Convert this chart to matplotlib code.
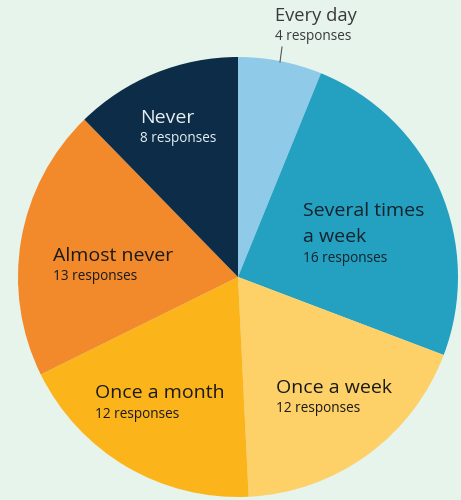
import matplotlib.pyplot as plt

plt.rcParams['font.family'] = ['Open Sans', 'DejaVu Sans']

# how often: answers from 65 people
categories = ["Every day", "Several times\na week", "Once a week",
              "Once a month", "Almost never", "Never"]
responses = [4, 16, 12, 12, 13, 8]
colors = ["#8fcbe9", "#24a0c1", "#fdd068", "#fbb51b", "#f2892b", "#0c2c48"]

# label spots in pixels from the top left (x, y of first title line)
label_xy = [(275, 16), (303, 211), (276, 388), (95, 393), (53, 256), (140, 118)]
title_size = [13.2, 14, 14, 14, 14, 14]
text_colors = ["#3a3a3a", "#14232c", "#1a1a1a", "#1a1a1a", "#1a1a1a", "#e8eef2"]

H = 500
fig = plt.figure(figsize=(4.61, 5.0), dpi=100)
fig.patch.set_facecolor("#e7f4ec")
ax = fig.add_axes([0, 0, 1, 1])
ax.set_facecolor("#e7f4ec")

ax.pie(responses, colors=colors, startangle=90, counterclock=False,
       center=(238, H - 277), radius=220, frame=True,
       wedgeprops=dict(linewidth=0))

for i, (name, n) in enumerate(zip(categories, responses)):
    x, y = label_xy[i]
    lines = name.split("\n")
    for k, line in enumerate(lines):
        ax.text(x, H - (y + 26 * k), line, fontsize=title_size[i],
                color=text_colors[i], ha="left", va="center")
    y_sub = y + 26 * (len(lines) - 1) + 21
    ax.text(x, H - y_sub, f"{n} responses", fontsize=9.8,
            color=text_colors[i], ha="left", va="center")

# small leader for the thin slice
ax.plot([282, 280], [H - 47, H - 62], color="#555555", lw=0.8)

ax.set_xlim(0, 461)
ax.set_ylim(0, H)
ax.set_aspect("equal")
ax.axis("off")

fig.savefig("out.png", dpi=100, facecolor=fig.get_facecolor())
